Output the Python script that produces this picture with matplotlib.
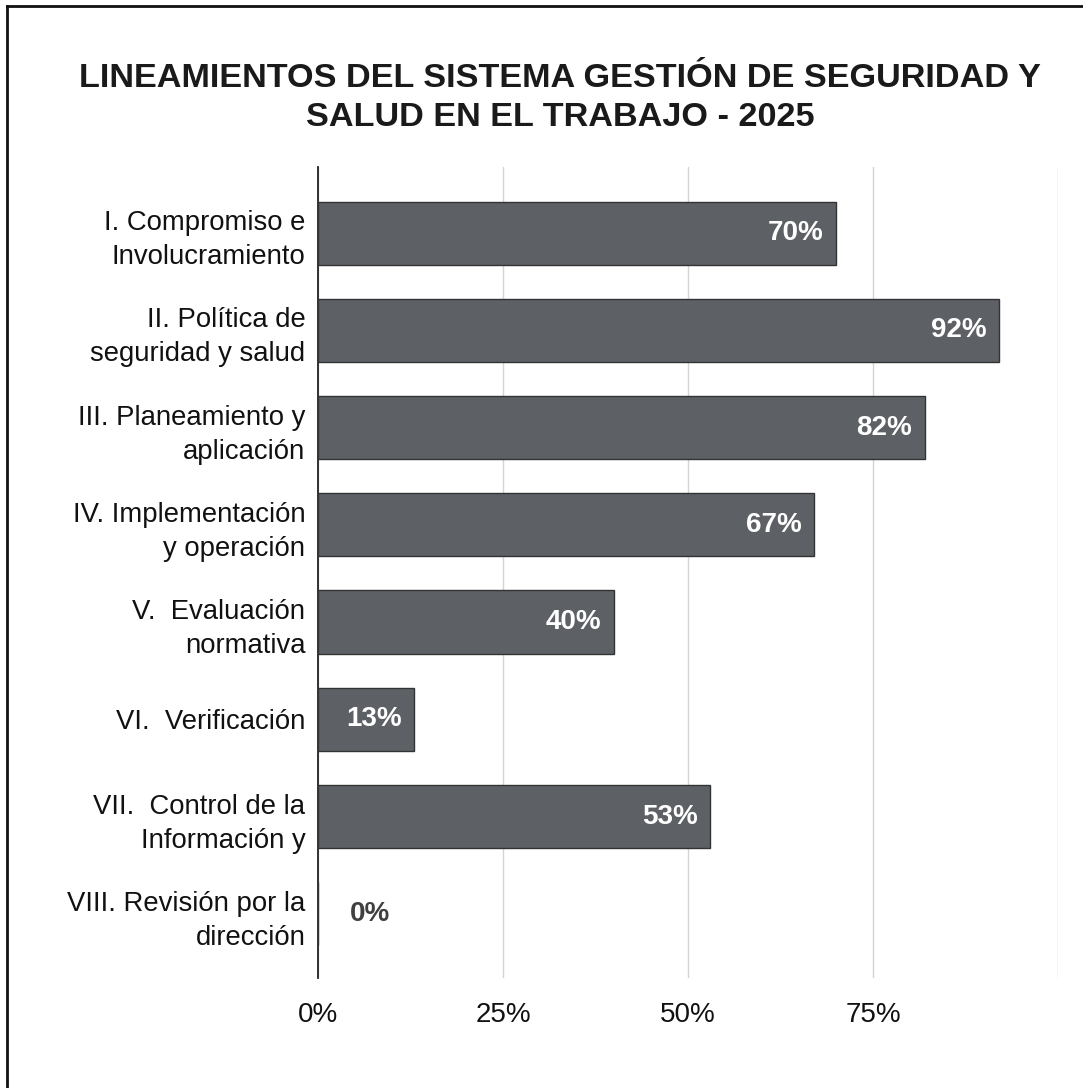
import matplotlib
matplotlib.use("Agg")
import matplotlib.pyplot as plt
from matplotlib.lines import Line2D

plt.rcParams['font.family'] = ['Liberation Sans', 'DejaVu Sans']

# datos
categorias = [
    "I. Compromiso e\nInvolucramiento",
    "II. Política de\nseguridad y salud",
    "III. Planeamiento y\naplicación",
    "IV. Implementación\ny operación",
    "V.  Evaluación\nnormativa",
    "VI.  Verificación",
    "VII.  Control de la\nInformación y",
    "VIII. Revisión por la\ndirección",
]
valores = [0.70, 0.92, 0.82, 0.67, 0.40, 0.13, 0.53, 0.00]
ticks_x = [0, 0.25, 0.50, 0.75, 1.0]
etiquetas_x = ["0%", "25%", "50%", "75%", ""]
titulo = "LINEAMIENTOS DEL SISTEMA GESTIÓN DE SEGURIDAD Y\nSALUD EN EL TRABAJO - 2025"

fig = plt.figure(figsize=(10.83, 10.88), dpi=100)
ax = fig.add_axes([0.2936, 0.1011, 0.6833, 0.7454])

pos = list(range(len(categorias)))
ax.barh(pos, valores, height=0.65, color='#5d6166', edgecolor='#333333', linewidth=1.0, zorder=3)

ax.set_xlim(0, 1.0)
ax.set_ylim(len(categorias) - 0.34, -0.68)
ax.set_yticks(pos)
ax.set_yticklabels(categorias, fontsize=19.8, color='#111111', linespacing=1.4)
ax.set_xticks(ticks_x)
ax.set_xticklabels(etiquetas_x, fontsize=20, color='#111111')
ax.tick_params(axis='y', length=0, pad=9)
ax.tick_params(axis='x', length=0, pad=17)

ax.grid(axis='x', color='#d4d4d4', linewidth=1.0, zorder=0)
for s in ['top', 'right', 'bottom']:
    ax.spines[s].set_visible(False)
ax.spines['left'].set_color('#222222')
ax.spines['left'].set_linewidth(1.3)

for p, v in zip(pos, valores):
    txt = f"{round(v * 100):d}%"
    if v > 0:
        ax.annotate(txt, (v, p), xytext=(-9, 0), textcoords='offset points',
                    ha='right', va='center', fontsize=20, fontweight='bold', color='white', zorder=4)
    else:
        ax.annotate(txt, (v, p), xytext=(23, 0), textcoords='offset points',
                    ha='left', va='center', fontsize=20, fontweight='bold', color='#404040', zorder=4)

fig.text(0.517, 0.910, titulo, ha='center', va='center', fontsize=24.7, fontweight='bold',
         color='#1a1a1a', linespacing=1.32)

# marco del escaneo
fig.add_artist(Line2D([0.0065, 0.0065], [0.0, 0.9945], transform=fig.transFigure, color='#111111', linewidth=2))
fig.add_artist(Line2D([0.0065, 1.0], [0.9945, 0.9945], transform=fig.transFigure, color='#111111', linewidth=2))

fig.savefig("out.png", dpi=100, facecolor='white')
